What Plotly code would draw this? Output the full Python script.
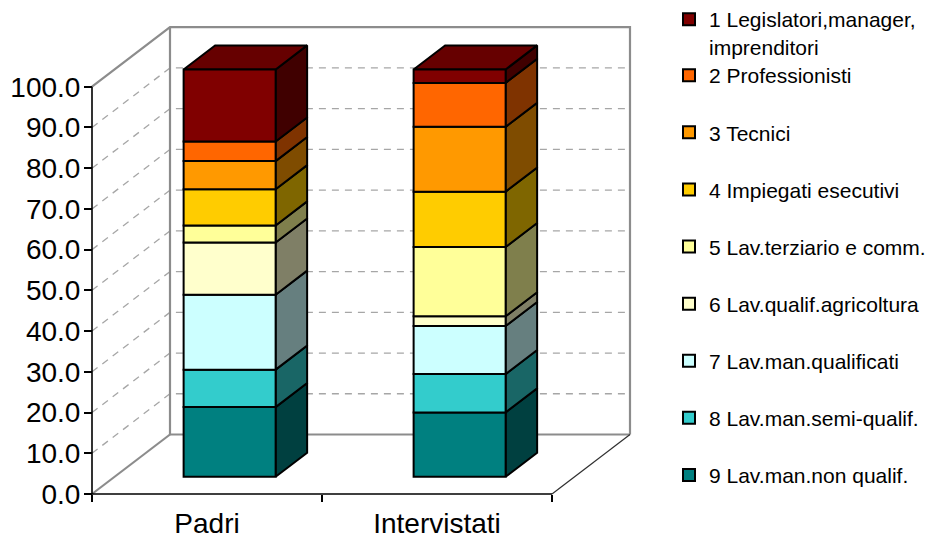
import plotly.graph_objects as go

# ---- data -------------------------------------------------------------
categories = ["Padri", "Intervistati"]
series_names = [
    "1 Legislatori,manager,<br>imprenditori",
    "2 Professionisti",
    "3 Tecnici",
    "4 Impiegati esecutivi",
    "5 Lav.terziario e comm.",
    "6 Lav.qualif.agricoltura",
    "7 Lav.man.qualificati",
    "8 Lav.man.semi-qualif.",
    "9 Lav.man.non qualif.",
]
padri = [17.7, 4.8, 6.9, 8.9, 4.2, 12.8, 18.4, 9.2, 17.1]
intervistati = [3.3, 10.8, 15.9, 13.6, 17.0, 2.4, 11.8, 9.4, 15.8]
series_colors = ["#800000", "#FF6600", "#FF9900", "#FFCC00", "#FFFF99",
                 "#FFFFCC", "#CCFFFF", "#33CCCC", "#008080"]
y_tick_values = [0, 10, 20, 30, 40, 50, 60, 70, 80, 90, 100]
y_tick_labels = [f"{v:.1f}" for v in y_tick_values]

# ---- pseudo-3D projection settings ------------------------------------
DEPTH_X = 78 / 230       # horizontal shift of the back plane (category units)
DEPTH_Y = 59.5 / 4.073   # vertical shift of the back plane (value units)
FRONT, BACK = 0.29, 0.694  # depth of the bars' front and back faces
BAR_W = 0.4
FONT = "Liberation Sans, Arial, sans-serif"


def shade(hex_color, k):
    r, g, b = (int(hex_color[i:i + 2], 16) for i in (1, 3, 5))
    return "#%02X%02X%02X" % (int(r * k), int(g * k), int(b * k))


def proj(x, v, d):
    return x + d * DEPTH_X, v + d * DEPTH_Y


fig = go.Figure()

# ---- walls and gridlines ----------------------------------------------
x_left, x_right = -0.5, len(categories) - 0.5
gx, gy = [], []
for v in y_tick_values[1:-1]:
    for pt in (proj(x_left, v, 0), proj(x_left, v, 1), proj(x_right, v, 1)):
        gx.append(pt[0]); gy.append(pt[1])
    gx.append(None); gy.append(None)
fig.add_trace(go.Scatter(x=gx, y=gy, mode="lines", hoverinfo="skip",
                         line=dict(color="#A6A6A6", width=1.3, dash="7px,6px"),
                         showlegend=False, zorder=0))

top = y_tick_values[-1]
wall_segments = [
    [proj(x_left, top, 0), proj(x_left, top, 1), proj(x_right, top, 1), proj(x_right, 0, 1)],
    [proj(x_left, top, 1), proj(x_left, 0, 1), proj(x_right, 0, 1)],
    [proj(x_left, 0, 0), proj(x_left, 0, 1)],
]
wx, wy = [], []
for seg in wall_segments:
    for pt in seg:
        wx.append(pt[0]); wy.append(pt[1])
    wx.append(None); wy.append(None)
fig.add_trace(go.Scatter(x=wx, y=wy, mode="lines", hoverinfo="skip",
                         line=dict(color="#8C8C8C", width=2.2),
                         showlegend=False, zorder=0))

# floor right edge
fx_, fy_ = zip(proj(x_right, 0, 0), proj(x_right, 0, 1))
fig.add_trace(go.Scatter(x=list(fx_), y=list(fy_), mode="lines", hoverinfo="skip",
                         line=dict(color="#303030", width=1.2),
                         showlegend=False, zorder=0))

# value axis line and category axis line
ax_pts = [proj(x_left, top, 0), proj(x_left, 0, 0), proj(x_right, 0, 0)]
fig.add_trace(go.Scatter(x=[p[0] for p in ax_pts], y=[p[1] for p in ax_pts],
                         mode="lines", hoverinfo="skip",
                         line=dict(color="black", width=1.6),
                         showlegend=False, zorder=0))

# ---- stacked 3D bars --------------------------------------------------
values = [padri, intervistati]
n = len(series_names)
cum = [0.0] * len(categories)
order = list(range(n - 1, -1, -1))  # series 9 at the bottom
for rank, i in enumerate(order):
    col = series_colors[i]
    bases = cum[:]
    heights = [values[c][i] for c in range(len(categories))]
    tops = [bases[c] + heights[c] for c in range(len(categories))]

    # side faces
    sx, sy = [], []
    for c in range(len(categories)):
        xr = c + BAR_W / 2
        for (xx, vv, dd) in ((xr, bases[c], FRONT), (xr, bases[c], BACK),
                             (xr, tops[c], BACK), (xr, tops[c], FRONT),
                             (xr, bases[c], FRONT)):
            p = proj(xx, vv, dd)
            sx.append(p[0]); sy.append(p[1])
        sx.append(None); sy.append(None)
    fig.add_trace(go.Scatter(x=sx, y=sy, mode="lines", fill="toself",
                             fillcolor=shade(col, 0.5), hoverinfo="skip",
                             line=dict(color="black", width=2),
                             showlegend=False, zorder=1))

    # top faces of the last segment
    if rank == n - 1:
        tx, ty = [], []
        for c in range(len(categories)):
            xl, xr = c - BAR_W / 2, c + BAR_W / 2
            for (xx, dd) in ((xl, FRONT), (xr, FRONT), (xr, BACK), (xl, BACK), (xl, FRONT)):
                p = proj(xx, tops[c], dd)
                tx.append(p[0]); ty.append(p[1])
            tx.append(None); ty.append(None)
        fig.add_trace(go.Scatter(x=tx, y=ty, mode="lines", fill="toself",
                                 fillcolor=shade(col, 0.8), hoverinfo="skip",
                                 line=dict(color="black", width=2),
                                 showlegend=False, zorder=1))

    # front faces
    fxs = [proj(c, 0, FRONT)[0] for c in range(len(categories))]
    fbs = [proj(0, bases[c], FRONT)[1] for c in range(len(categories))]
    fig.add_trace(go.Bar(x=fxs, y=heights, base=fbs, width=BAR_W,
                         name=series_names[i],
                         marker=dict(color=col, line=dict(color="black", width=2)),
                         legend="legend" if i == 0 else f"legend{i + 1}",
                         hovertemplate="%{y:.1f}<extra></extra>", zorder=2))
    cum = tops

# ---- layout -----------------------------------------------------------
L, R, T, B = 82, 640, 20, 504
W, H = 932, 539
PX_X, PX_Y = 230, 4.073
X0_PX, Y0_PX = 92, 494

x_range = [(L - X0_PX) / PX_X - 0.5, (R - X0_PX) / PX_X - 0.5]
y_range = [(Y0_PX - B) / PX_Y, (Y0_PX - T) / PX_Y]

layout = dict(
    width=W, height=H,
    margin=dict(l=L, r=W - R, t=T, b=H - B, pad=0, autoexpand=False),
    paper_bgcolor="white", plot_bgcolor="white",
    barmode="overlay",
    font=dict(family=FONT, color="black"),
    xaxis=dict(range=x_range, showgrid=False, zeroline=False, showline=False,
               automargin=False,
               tickvals=list(range(len(categories))), ticktext=categories,
               ticks="", tickfont=dict(size=28, family=FONT), ticklabelstandoff=10,
               anchor="free", position=(B - Y0_PX) / (B - T),
               minor=dict(tickvals=[k - 0.5 for k in range(len(categories) + 1)],
                          ticks="outside", ticklen=7, tickwidth=1.5, tickcolor="black",
                          showgrid=False)),
    yaxis=dict(range=y_range, showgrid=False, zeroline=False, showline=False,
               automargin=False,
               tickvals=y_tick_values, ticktext=y_tick_labels,
               ticks="outside", ticklen=8, tickwidth=1.5, tickcolor="black",
               tickfont=dict(size=28, family=FONT), ticklabelstandoff=-2,
               anchor="free", position=(X0_PX - L) / (R - L)),
    showlegend=True,
)

# one legend box per series, stacked at a fixed pitch
LEG_LEFT_PX = 669
for i in range(n):
    key = "legend" if i == 0 else f"legend{i + 1}"
    yc = 21 + i * 57.1
    leg = dict(x=(LEG_LEFT_PX - L) / (R - L), xanchor="left",
               font=dict(size=21, family=FONT, color="black"),
               bgcolor="rgba(0,0,0,0)", borderwidth=0)
    if i == 0:
        leg.update(y=(B - (yc - 22)) / (B - T), yanchor="top", valign="top")
    else:
        leg.update(y=(B - (yc - 2.5)) / (B - T), yanchor="middle")
    layout[key] = leg

fig.update_layout(**layout)
fig.write_html("out.html")
